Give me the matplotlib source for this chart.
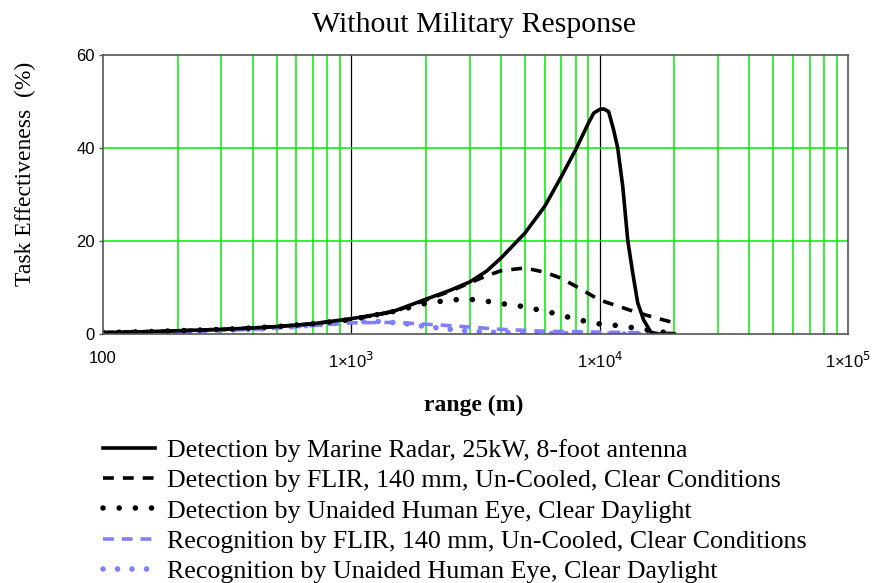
import matplotlib.pyplot as plt
from matplotlib import font_manager
from matplotlib.ticker import FixedLocator, NullFormatter

plt.rcParams['font.family'] = ['Liberation Serif', 'DejaVu Serif']
names = {f.name for f in font_manager.fontManager.ttflist}
tick_font = 'Liberation Sans Narrow' if 'Liberation Sans Narrow' in names else 'Liberation Sans'

# values (range in m, effectiveness in %)
radar_x = [100, 150, 200, 300, 400, 500, 700, 1000, 1300, 1500, 2000, 2500, 3000,
           3500, 4000, 5000, 6000, 7000, 8000, 9000, 9460, 10000, 10400, 10870,
           11380, 11820, 12390, 12970, 13590, 14230, 15040, 16070, 17000, 20000]
radar_y = [0.3, 0.5, 0.7, 1.0, 1.3, 1.6, 2.2, 3.3, 4.3, 5.0, 7.5, 9.4, 11.2,
           13.5, 16.3, 21.7, 27.4, 33.8, 39.6, 45.3, 47.5, 48.3, 48.4, 47.8,
           43.9, 40.0, 31.7, 20.2, 13.1, 6.7, 3.0, 0.4, 0.0, 0.0]

flir_det_x = [100, 150, 200, 300, 400, 500, 700, 1000, 1300, 1500, 2000, 2500, 3000,
              3500, 4000, 5000, 6000, 7000, 8500, 10000, 12000, 14000, 17000, 20000]
flir_det_y = [0.3, 0.5, 0.7, 1.0, 1.3, 1.6, 2.2, 3.2, 4.2, 4.9, 7.3, 9.2, 11.0,
              12.5, 13.6, 14.2, 13.3, 12.0, 9.5, 7.3, 5.9, 4.7, 3.4, 2.4]

eye_det_x = [100, 150, 200, 300, 400, 500, 700, 1000, 1500, 2000, 2500, 2900, 3400,
             3900, 4600, 5300, 6200, 7100, 8100, 9400, 11000, 12700, 15000, 17000, 20000]
eye_det_y = [0.3, 0.5, 0.7, 1.0, 1.3, 1.6, 2.2, 3.1, 4.9, 6.6, 7.3, 7.5, 7.2,
             6.6, 6.2, 5.5, 4.8, 3.9, 3.2, 2.3, 2.0, 1.6, 1.0, 0.5, 0.2]

flir_rec_x = [100, 150, 200, 300, 400, 500, 700, 1000, 1500, 2000, 2500, 3000,
              4000, 6000, 8000, 10000, 14000, 20000]
flir_rec_y = [0.3, 0.4, 0.5, 0.8, 1.0, 1.3, 1.8, 2.4, 2.5, 2.1, 1.8, 1.5,
              1.0, 0.6, 0.5, 0.4, 0.3, 0.2]

eye_rec_x = [100, 150, 200, 300, 400, 500, 700, 1000, 1300, 1600, 2000, 2500, 3000,
             4000, 5000, 7000, 10000, 14000, 20000]
eye_rec_y = [0.3, 0.4, 0.5, 0.8, 1.0, 1.3, 1.9, 2.6, 2.7, 2.3, 1.6, 1.0, 0.6,
             0.3, 0.2, 0.1, 0.0, 0.0, 0.0]

labels = ['Detection by Marine Radar, 25kW, 8-foot antenna',
          'Detection by FLIR, 140 mm, Un-Cooled, Clear Conditions',
          'Detection by Unaided Human Eye, Clear Daylight',
          'Recognition by FLIR, 140 mm, Un-Cooled, Clear Conditions',
          'Recognition by Unaided Human Eye, Clear Daylight']
xtick_labels = ['100', '1×10$^3$', '1×10$^4$', '1×10$^5$']

blue = '#7f7fff'

fig = plt.figure(figsize=(8.72, 5.83), dpi=100)
ax = fig.add_axes([103 / 872, 1 - 334 / 583, 745 / 872, 279 / 583])

# grid: green minor lines, black decade lines
minors = [m * 10 ** e for e in (2, 3, 4) for m in range(2, 10)]
for xv in minors:
    ax.axvline(xv, color='#00ee00', lw=1.1, zorder=1)
for xv in (1e3, 1e4):
    ax.axvline(xv, color='black', lw=0.9, zorder=1)
for yv in (20, 40):
    ax.axhline(yv, color='#00ee00', lw=1.1, zorder=1)

lines = []
lines += ax.plot(eye_rec_x, eye_rec_y, color=blue, lw=4, linestyle=(0, (0.01, 2.6)),
                 dash_capstyle='round', zorder=3)
lines += ax.plot(flir_rec_x, flir_rec_y, color=blue, lw=2.6, linestyle=(0, (3, 2.2)), zorder=3)
lines += ax.plot(eye_det_x, eye_det_y, color='black', lw=4, linestyle=(0, (0.01, 2.9)),
                 dash_capstyle='round', zorder=4)
lines += ax.plot(flir_det_x, flir_det_y, color='black', lw=2.6, linestyle=(0, (3, 2.5)), zorder=4)
lines += ax.plot(radar_x, radar_y, color='black', lw=2.6, zorder=5)
lines = lines[::-1]

ax.set_xscale('log')
ax.set_xlim(100, 1e5)
ax.set_ylim(0, 60)
ax.xaxis.set_major_locator(FixedLocator([100, 1e3, 1e4, 1e5]))
ax.xaxis.set_minor_locator(FixedLocator(minors))
ax.xaxis.set_minor_formatter(NullFormatter())
ax.set_xticklabels(xtick_labels)
ax.set_yticks([0, 20, 40, 60])
ax.tick_params(which='both', length=0)
ax.tick_params(axis='x', labelsize=12, pad=12)
ax.tick_params(axis='y', labelsize=12, pad=3, length=3, width=1, color='#555555')
for lab in ax.get_xticklabels() + ax.get_yticklabels():
    lab.set_family(tick_font)
for s in ax.spines.values():
    s.set_color('#555555')
    s.set_linewidth(1.2)
    s.set_zorder(6)

fig.text(474 / 872, 1 - 32 / 583, 'Without Military Response', fontsize=21.5,
         ha='center', va='baseline')
ax.set_ylabel('Task Effectiveness  (%)', fontsize=17)
ax.yaxis.set_label_coords((36 - 103) / 745, (334 - 174) / 279)
ax.set_xlabel('range (m)', fontsize=17, fontweight='bold')
ax.xaxis.set_label_coords((474 - 103) / 745, (334 - 395) / 279)

fig.legend(lines, labels, loc='upper left', bbox_to_anchor=(103 / 872, 1 - 439 / 583),
           frameon=False, fontsize=18.7, handlelength=2.0, handletextpad=0.45,
           labelspacing=0.27, borderaxespad=0, borderpad=0)

fig.savefig('out.png', dpi=100)
